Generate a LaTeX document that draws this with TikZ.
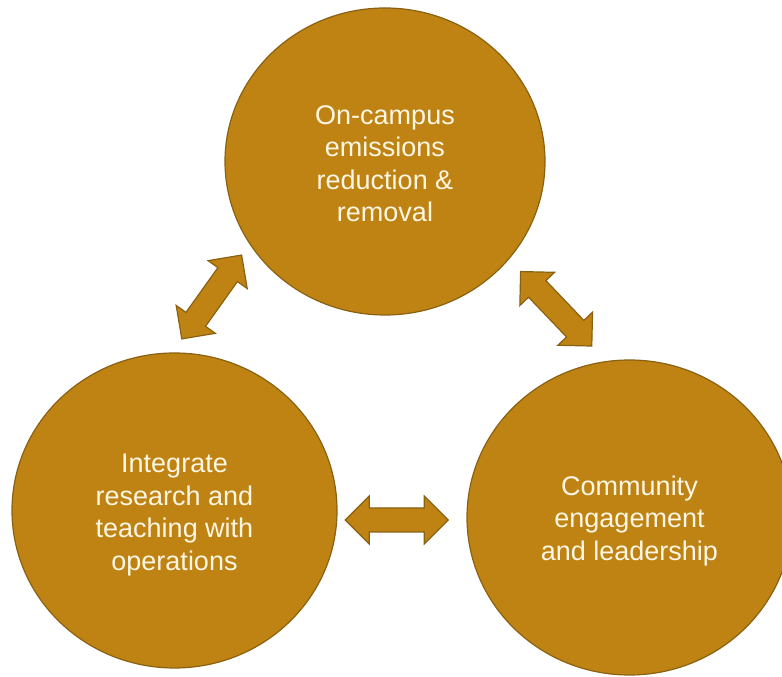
\documentclass[tikz,border=0pt]{standalone}
\usepackage{fontspec}
\setmainfont{Liberation Sans}
\usetikzlibrary{shapes.geometric}
\definecolor{gold}{HTML}{BE8312}
\definecolor{goldedge}{HTML}{8A6112}
\definecolor{cream}{HTML}{FFF6E4}
\tikzset{
  bubble/.style={ellipse, fill=gold, draw=goldedge, line width=1.2pt, inner sep=0pt},
  bubbletext/.style={text=cream, align=center, inner sep=0pt, font=\fontsize{27}{32.5}\selectfont},
  blockarrow/.style={fill=gold, draw=goldedge, line width=1.2pt, line join=miter}
}
\newcommand{\dblarrow}{(-51.5,0) -- (-27.5,24) -- (-27.5,12) -- (27.5,12) -- (27.5,24) -- (51.5,0) -- (27.5,-24) -- (27.5,-12) -- (-27.5,-12) -- (-27.5,-24) -- cycle}
\begin{document}
\begin{tikzpicture}[x=1pt,y=1pt]
\useasboundingbox[fill=white] (0,0) rectangle (782,677);
\node[bubble, minimum width=320pt, minimum height=307pt] (top) at (385,515.5) {};
\node[bubble, minimum width=325pt, minimum height=315pt] (left) at (174.5,166.5) {};
\node[bubble, minimum width=325pt, minimum height=315pt] (right) at (629.5,159.5) {};
\node[bubbletext, yshift=-2pt] (toptext) at (top.center)
  {On-campus\\emissions\\reduction \&\\removal};
\node[bubbletext, yshift=-4.5pt] (lefttext) at (left.center)
  {Integrate\\research and\\teaching with\\operations};
\node[bubbletext, yshift=-3.5pt] (righttext) at (right.center)
  {Community\\engagement\\and leadership};
\coordinate (aTL) at (211.7,380);
\coordinate (aTR) at (556.2,368.2);
\coordinate (aLR) at (396.7,157);
\begin{scope}[shift={(aTL)}, rotate=54.5]
  \draw[blockarrow] \dblarrow;
\end{scope}
\begin{scope}[shift={(aTR)}, rotate=-46.3]
  \draw[blockarrow] \dblarrow;
\end{scope}
\begin{scope}[shift={(aLR)}]
  \draw[blockarrow] \dblarrow;
\end{scope}
\end{tikzpicture}
\end{document}
